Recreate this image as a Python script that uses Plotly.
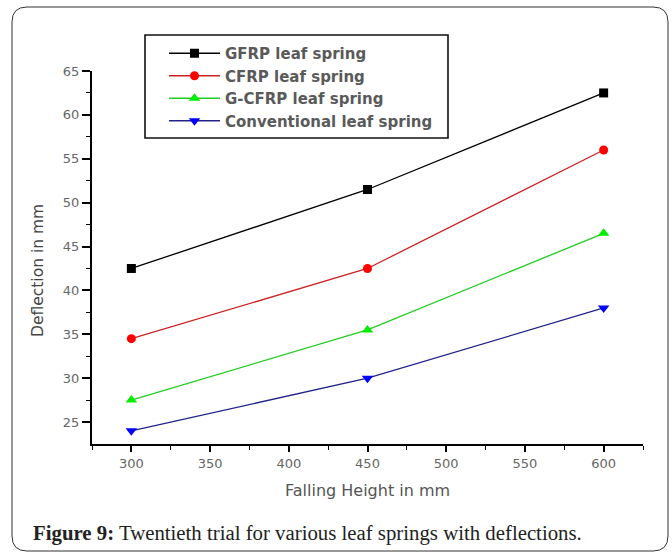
import plotly.graph_objects as go

heights = [300, 450, 600]
gfrp = [42.5, 51.5, 62.5]
cfrp = [34.5, 42.5, 56.0]
gcfrp = [27.5, 35.5, 46.5]
conventional = [24.0, 30.0, 38.0]

series_names = ["GFRP leaf spring", "CFRP leaf spring", "G-CFRP leaf spring", "Conventional leaf spring"]
series_values = [gfrp, cfrp, gcfrp, conventional]
line_colors = ["#000000", "#cc2222", "#22cc22", "#22228a"]
marker_colors = ["#000000", "#ff0000", "#00ee00", "#0000ff"]
symbols = ["square", "circle", "triangle-up", "triangle-down"]
marker_sizes = [9, 9, 10, 10]

W, H = 672, 552
L, R, T, B = 92, 29, 71, 108
PW, PH = W - L - R, H - T - B


def px(x):
    return (x - L) / PW


def py(y):
    return (H - B - y) / PH


fig = go.Figure()
for name, vals, lc, mc, sym, ms in zip(series_names, series_values, line_colors, marker_colors, symbols, marker_sizes):
    fig.add_trace(go.Scatter(
        x=heights, y=vals, name=name, mode="lines+markers",
        line=dict(color=lc, width=1.3),
        marker=dict(color=mc, symbol=sym, size=ms, line=dict(width=0)),
    ))

# rounded outer frame
x0, y0, x1, y1, r = 12, 7, 668, 551, 15
path = (
    f"M{px(x0 + r)},{py(y0)} L{px(x1 - r)},{py(y0)} Q{px(x1)},{py(y0)} {px(x1)},{py(y0 + r)} "
    f"L{px(x1)},{py(y1 - r)} Q{px(x1)},{py(y1)} {px(x1 - r)},{py(y1)} "
    f"L{px(x0 + r)},{py(y1)} Q{px(x0)},{py(y1)} {px(x0)},{py(y1 - r)} "
    f"L{px(x0)},{py(y0 + r)} Q{px(x0)},{py(y0)} {px(x0 + r)},{py(y0)} Z"
)
shapes = [
    dict(type="path", xref="paper", yref="paper", path=path, line=dict(color="#333333", width=1)),
    dict(type="rect", xref="paper", yref="paper", x0=px(145), x1=px(448), y0=py(35), y1=py(138),
         line=dict(color="#111111", width=1.6)),
]

annotations = [
    dict(text="Falling Height in mm", xref="paper", yref="paper", x=0.5, y=py(490),
         xanchor="center", yanchor="middle", showarrow=False,
         font=dict(family="DejaVu Sans", size=16, color="#555555")),
    dict(text="Deflection in mm", xref="paper", yref="paper", x=px(38), y=py(271),
         xanchor="center", yanchor="middle", showarrow=False, textangle=-90,
         font=dict(family="DejaVu Sans", size=15.5, color="#444444")),
    dict(text="<b>Figure 9:</b> Twentieth trial for various leaf springs with deflections.",
         xref="paper", yref="paper", x=px(31), y=py(533), xanchor="left", yanchor="middle",
         showarrow=False, font=dict(family="Liberation Serif", size=20.8, color="#222222")),
]

fig.update_layout(
    width=W, height=H,
    margin=dict(l=L, r=R, t=T, b=B),
    paper_bgcolor="white", plot_bgcolor="white",
    shapes=shapes, annotations=annotations,
    showlegend=True,
    legend=dict(x=px(164), y=py(37), xanchor="left", yanchor="top",
                bgcolor="rgba(0,0,0,0)", borderwidth=0, itemwidth=51,
                font=dict(family="DejaVu Sans", size=15, color="#5a5a5a", weight="bold")),
    xaxis=dict(range=[275, 625], tickmode="array", tickvals=[300, 350, 400, 450, 500, 550, 600],
               showline=True, linecolor="black", linewidth=2, showgrid=False, zeroline=False,
               ticks="outside", ticklen=6, tickwidth=1.5, tickcolor="black",
               tickfont=dict(family="DejaVu Sans", size=13, color="#666666"),
               minor=dict(tickvals=[275, 325, 375, 425, 475, 525, 575, 625], ticks="outside",
                          ticklen=4, tickwidth=1, tickcolor="black")),
    yaxis=dict(range=[22.5, 65], tickmode="array", tickvals=[25, 30, 35, 40, 45, 50, 55, 60, 65],
               showline=True, linecolor="black", linewidth=2, showgrid=False, zeroline=False,
               ticks="outside", ticklen=8, tickwidth=1.5, tickcolor="black",
               tickfont=dict(family="DejaVu Sans", size=13, color="#666666"),
               minor=dict(tickvals=[27.5, 32.5, 37.5, 42.5, 47.5, 52.5, 57.5, 62.5], ticks="outside",
                          ticklen=4, tickwidth=1, tickcolor="black")),
)

fig.write_html("out.html")
